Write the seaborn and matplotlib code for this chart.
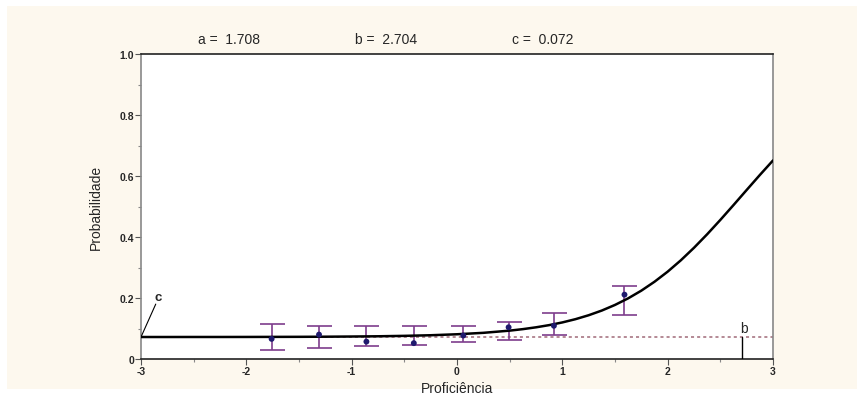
import matplotlib
matplotlib.use("Agg")
import matplotlib.pyplot as plt
import seaborn as sns
import pandas as pd
from matplotlib.patches import Rectangle
from matplotlib.ticker import MultipleLocator

# --- Data ---
param_a, param_b, param_c = 1.708, 2.704, 0.072

curve_x = [-3.0, -2.75, -2.5, -2.25, -2.0, -1.75, -1.5, -1.25, -1.0, -0.75, -0.5, -0.25,
           0.0, 0.25, 0.5, 0.625, 0.75, 0.875, 1.0, 1.125, 1.25, 1.375, 1.5, 1.625, 1.75,
           1.875, 2.0, 2.125, 2.25, 2.375, 2.5, 2.625, 2.75, 2.875, 3.0]
curve_p = [0.0721, 0.0721, 0.0722, 0.0722, 0.0723, 0.0725, 0.0727, 0.0731, 0.0737, 0.0745,
           0.0759, 0.0779, 0.0811, 0.0858, 0.0930, 0.0979, 0.1039, 0.1111, 0.1199, 0.1306,
           0.1435, 0.1589, 0.1773, 0.1989, 0.2241, 0.2533, 0.2864, 0.3236, 0.3647, 0.4090,
           0.4560, 0.5047, 0.5542, 0.6033, 0.6510]

obs_x = [-1.76, -1.31, -0.86, -0.41, 0.06, 0.49, 0.92, 1.59]
obs_p = [0.066, 0.080, 0.057, 0.052, 0.077, 0.104, 0.109, 0.211]
obs_hi = [0.114, 0.109, 0.107, 0.107, 0.109, 0.121, 0.151, 0.240]
obs_lo = [0.029, 0.036, 0.042, 0.045, 0.055, 0.063, 0.078, 0.144]

curve_df = pd.DataFrame({"x": curve_x, "p": curve_p})
obs_df = pd.DataFrame({"x": obs_x, "p": obs_p, "hi": obs_hi, "lo": obs_lo})

sns.set_style("white")
plt.rcParams["font.family"] = ["Liberation Sans", "DejaVu Sans"]

fig = plt.figure(figsize=(8.58, 4.02), dpi=100)
fig.patch.set_facecolor("white")
# cream panel behind everything
fig.patches.append(Rectangle((7 / 858, 12 / 402), 850 / 858, 383 / 402,
                             transform=fig.transFigure, facecolor="#fdf8ee",
                             edgecolor="none", zorder=-10))

ax = fig.add_axes([141 / 858, 1 - 360 / 402, 632 / 858, 305 / 402])
ax.set_facecolor("white")

# --- c asymptote (dotted) ---
ax.plot([-3, 3], [param_c, param_c], linestyle=(0, (2, 2)), color="#a06a78", lw=1.1, zorder=2)

# --- error bars ---
ax.errorbar(obs_df["x"], obs_df["p"],
            yerr=[obs_df["p"] - obs_df["lo"], obs_df["hi"] - obs_df["p"]],
            fmt="none", ecolor="#7e3d8c", elinewidth=1.2, capsize=9, capthick=1.2, zorder=3)

# --- ICC curve ---
sns.lineplot(data=curve_df, x="x", y="p", ax=ax, color="black", lw=1.8, zorder=4)

# --- observed proportions ---
sns.scatterplot(data=obs_df, x="x", y="p", ax=ax, color="#1f1a6e", s=18,
                edgecolor="none", zorder=5)

# --- b marker ---
ax.plot([param_b, param_b], [0, param_c], color="black", lw=1, zorder=4)
ax.text(param_b + 0.02, param_c + 0.006, "b", fontsize=10, ha="center", va="bottom")

# --- c marker ---
ax.plot([-3, -2.86], [param_c, 0.18], color="black", lw=0.8, zorder=4)
ax.text(-2.84, 0.182, "c", fontsize=9.5, fontweight="bold", ha="center", va="bottom")

ax.set_xlim(-3, 3)
ax.set_ylim(0, 1.0)
ax.xaxis.set_minor_locator(MultipleLocator(0.5))
ax.yaxis.set_minor_locator(MultipleLocator(0.1))
ax.set_yticks([0, 0.2, 0.4, 0.6, 0.8, 1.0])
ax.set_yticklabels(["0", "0.2", "0.4", "0.6", "0.8", "1.0"], fontsize=7.5, fontweight="bold")
ax.set_xticks([-3, -2, -1, 0, 1, 2, 3])
ax.set_xticklabels(["-3", "-2", "-1", "0", "1", "2", "3"], fontsize=7.5, fontweight="bold")
ax.tick_params(axis="both", which="major", direction="out", length=4, width=0.8,
               color="#555555", pad=1, bottom=True, left=True)
ax.tick_params(axis="both", which="minor", direction="out", length=2, width=0.8,
               color="#888888", bottom=True, left=True)

for side in ["top", "bottom"]:
    ax.spines[side].set_color("#222222")
    ax.spines[side].set_linewidth(1.2)
for side in ["left", "right"]:
    ax.spines[side].set_color("#888888")
    ax.spines[side].set_linewidth(1.2)

ax.set_xlabel("Proficiência", fontsize=10, labelpad=4)
ax.set_ylabel("Probabilidade", fontsize=10, labelpad=12)

# --- parameter header ---
fig.text(198 / 858, 1 - 40 / 402, f"a =  {param_a:.3f}", fontsize=10, va="center")
fig.text(355 / 858, 1 - 40 / 402, f"b =  {param_b:.3f}", fontsize=10, va="center")
fig.text(512 / 858, 1 - 40 / 402, f"c =  {param_c:.3f}", fontsize=10, va="center")

fig.savefig("out.png", dpi=100)
